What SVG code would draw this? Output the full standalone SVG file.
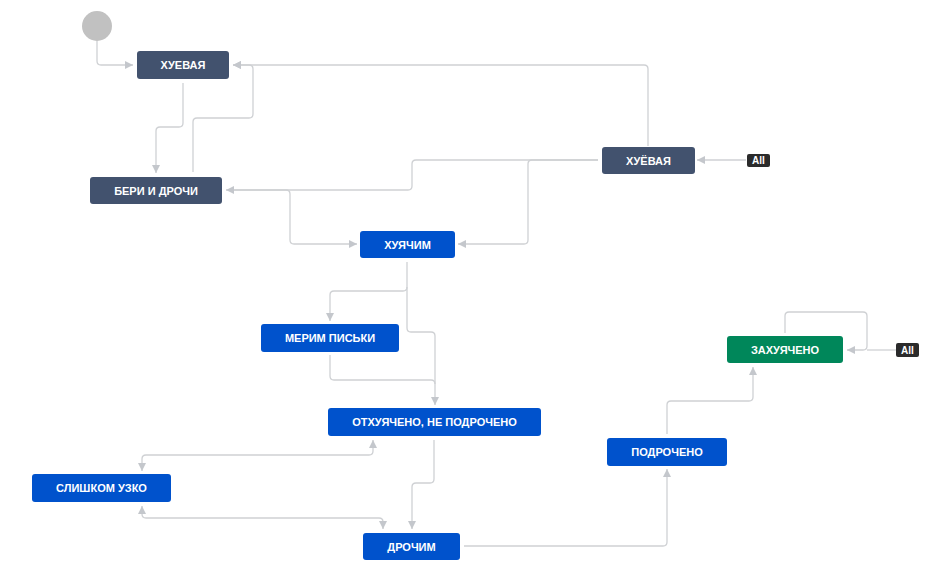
<svg xmlns="http://www.w3.org/2000/svg" width="934" height="572" viewBox="0 0 934 572">
<defs>
<marker id="arr" viewBox="0 0 8 8" refX="8" refY="4" markerWidth="8" markerHeight="8" markerUnits="userSpaceOnUse" orient="auto-start-reverse">
<path d="M0,0 L8,4 L0,8 z" fill="#c4c7cc"/>
</marker>
<style>
.c{fill:none;stroke:#cfd1d4;stroke-width:1.3}
.e{marker-end:url(#arr)}
.s{marker-start:url(#arr)}
.dk{fill:#42526e}
.bl{fill:#0052cc}
.gr{fill:#00875a}
.t{fill:#fff;font-family:"Liberation Sans",Arial,sans-serif;font-weight:bold;font-size:11px;text-anchor:middle}
.b{fill:#2b2b2b}
.bt{fill:#fff;font-family:"Liberation Sans",Arial,sans-serif;font-weight:bold;font-size:10px;text-anchor:middle}
</style>
</defs>
<rect width="934" height="572" fill="#fff"/>
<g id="connectors">
<path class="c e" d="M97,41 V61 Q97,65 101,65 H133"/>
<path class="c e" d="M183,83 V123 Q183,127 179,127 H160 Q156,127 156,131 V173"/>
<path class="c e" d="M193,172 V122 Q193,118 197,118 H249 Q253,118 253,114 V69 Q253,65 249,65 H233"/>
<path class="c e" d="M648,146 V69 Q648,65 644,65 H233"/>
<path class="c e" d="M598,160 H416 Q412,160 412,164 V186 Q412,190 408,190 H226"/>
<path class="c e" d="M598,160 H532 Q528,160 528,164 V240 Q528,244 524,244 H458"/>
<path class="c e" d="M234,190 H286 Q290,190 290,194 V240 Q290,244 294,244 H357"/>
<path class="c e" d="M746,160 H697"/>
<path class="c e" d="M407,262 V287 Q407,291 403,291 H334 Q330,291 330,295 V321"/>
<path class="c e" d="M407,287 V328 Q407,332 411,332 H431 Q435,332 435,336 V405"/>
<path class="c" d="M330,355 V376 Q330,380 334,380 H431 Q435,380 435,384"/>
<path class="c e s" d="M373,440 V451 Q373,455 369,455 H146 Q142,455 142,459 V471"/>
<path class="c e s" d="M142,506 V514 Q142,518 146,518 H379 Q383,518 383,522 V529"/>
<path class="c e" d="M434,440 V479 Q434,483 430,483 H416 Q412,483 412,487 V529"/>
<path class="c e" d="M464,546 H663 Q667,546 667,542 V469"/>
<path class="c e" d="M667,434 V405 Q667,401 671,401 H749 Q753,401 753,397 V367"/>
<path class="c e" d="M785,333 V316 Q785,312 789,312 H863 Q867,312 867,316 V346 Q867,350 863,350 H847"/>
<path class="c" d="M896,350 H867"/>
</g>
<g id="start"><circle cx="97" cy="26" r="15" fill="#c1c1c1"/></g>
<g id="n-huevaya"><rect class="dk" x="137" y="51" width="92" height="28" rx="3"/><text class="t" x="183" y="69">ХУЕВАЯ</text></g>
<g id="n-beri"><rect class="dk" x="90" y="177" width="132" height="27" rx="3"/><text class="t" x="156" y="194.5">БЕРИ И ДРОЧИ</text></g>
<g id="n-hueyovaya"><rect class="dk" x="602" y="147" width="93" height="27" rx="3"/><text class="t" x="648.5" y="164.5">ХУЁВАЯ</text></g>
<g id="b-all1"><rect class="b" x="747" y="154" width="23" height="13" rx="2"/><text class="bt" x="758.5" y="164">All</text></g>
<g id="n-huyachim"><rect class="bl" x="360" y="231" width="95" height="27" rx="3"/><text class="t" x="407.5" y="248.5">ХУЯЧИМ</text></g>
<g id="n-merim"><rect class="bl" x="261" y="324" width="138" height="28" rx="3"/><text class="t" x="330" y="342">МЕРИМ ПИСЬКИ</text></g>
<g id="n-othuyacheno"><rect class="bl" x="328" y="408" width="213" height="28" rx="3"/><text class="t" x="434.5" y="426">ОТХУЯЧЕНО, НЕ ПОДРОЧЕНО</text></g>
<g id="n-slishkom"><rect class="bl" x="32" y="474" width="139" height="28" rx="3"/><text class="t" x="101.5" y="492">СЛИШКОМ УЗКО</text></g>
<g id="n-drochim"><rect class="bl" x="363" y="533" width="97" height="27" rx="3"/><text class="t" x="411.5" y="550.5">ДРОЧИМ</text></g>
<g id="n-podrocheno"><rect class="bl" x="607" y="438" width="120" height="28" rx="3"/><text class="t" x="667" y="456">ПОДРОЧЕНО</text></g>
<g id="n-zahuyacheno"><rect class="gr" x="727" y="336" width="116" height="27" rx="3"/><text class="t" x="785" y="353.5">ЗАХУЯЧЕНО</text></g>
<g id="b-all2"><rect class="b" x="896" y="343" width="23" height="14" rx="2"/><text class="bt" x="907.5" y="353.5">All</text></g>
</svg>
